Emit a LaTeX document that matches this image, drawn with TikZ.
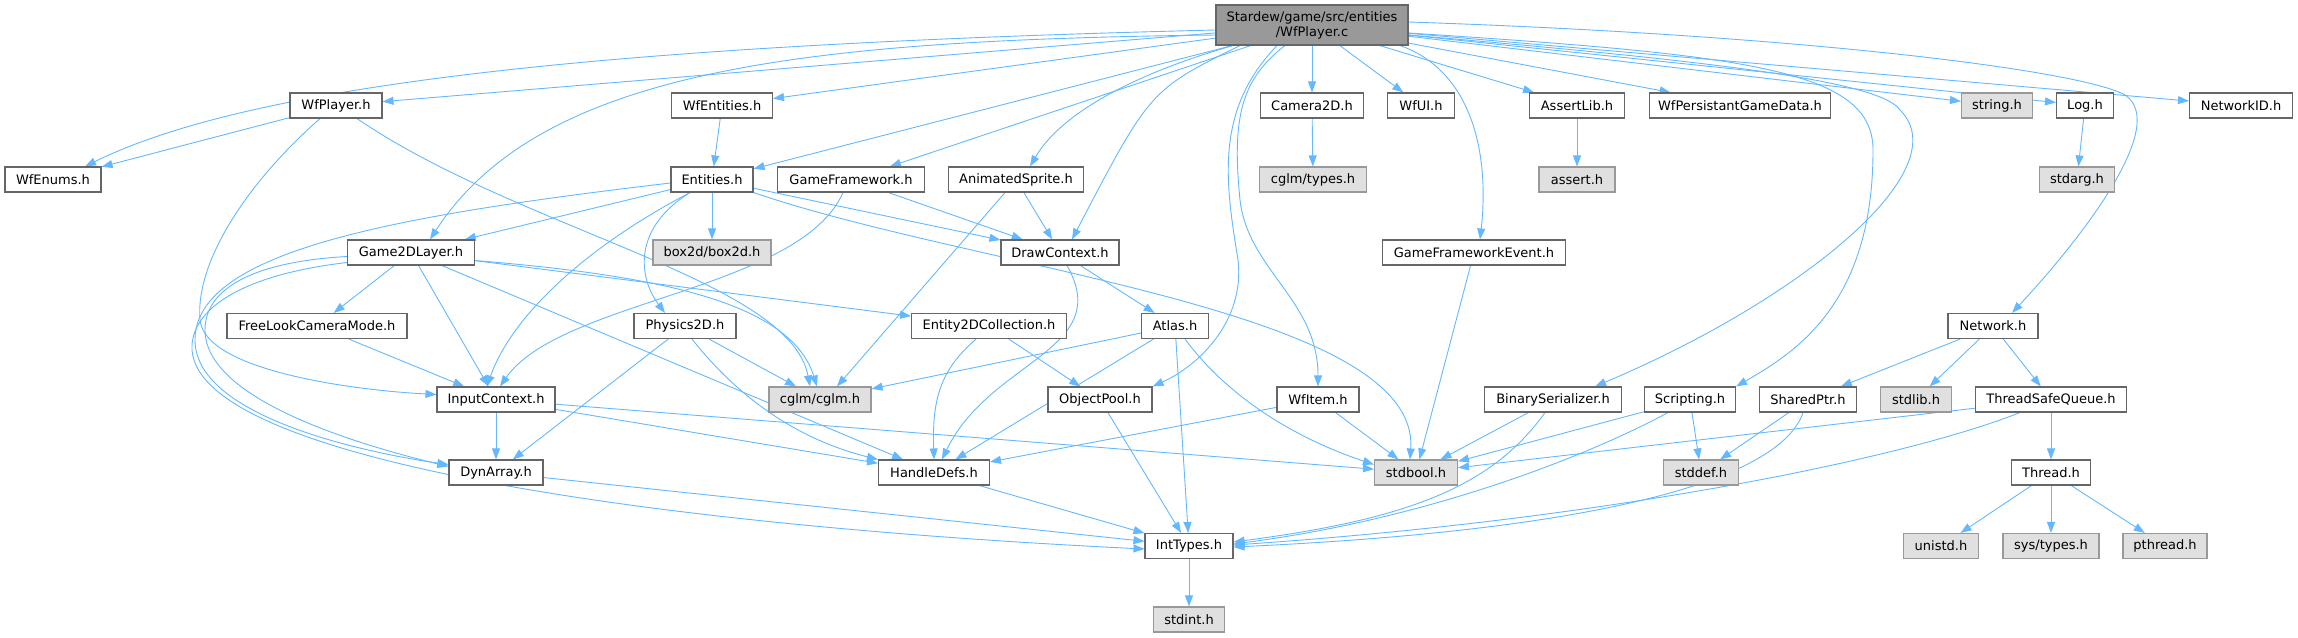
\documentclass[tikz,border=0pt]{standalone}
\usepackage{fontspec}
\setmainfont{DejaVu Sans}
\usepackage{tikz}
\usetikzlibrary{arrows.meta}

\definecolor{edgeblue}{HTML}{63B8FF}
\definecolor{boxline}{HTML}{666666}
\definecolor{sysline}{HTML}{999999}
\definecolor{sysfill}{HTML}{E0E0E0}
\definecolor{rootfill}{HTML}{999999}

\pgfdeclarelayer{edges}
\pgfsetlayers{edges,main}

\begin{document}
\begin{tikzpicture}[x=1pt,y=-1pt,
        hdr/.style={draw=boxline, fill=white, line width=1.1pt, minimum height=25pt, inner sep=0pt, font=\fontsize{13pt}{15pt}\selectfont},
        syshdr/.style={hdr, draw=sysline, fill=sysfill},
        rootfile/.style={hdr, draw=boxline, fill=rootfill, minimum height=40pt, align=center},
        dep/.style={draw=edgeblue, line width=0.9pt, -{Triangle[length=11pt,width=8pt]}}]
        \useasboundingbox (0,0) rectangle (2298,637);

        \node[rootfile, minimum width=192pt] (root) at (1312,25) {Stardew/game/src/entities\\/WfPlayer.c};

        \node[hdr, minimum width=92pt] (wfplayer) at (336,105.5) {WfPlayer.h};
        \node[hdr, minimum width=101pt] (wfentities) at (722,105.5) {WfEntities.h};
        \node[hdr, minimum width=103pt] (camera) at (1312,105.5) {Camera2D.h};
        \node[hdr, minimum width=67pt] (wfui) at (1421,105.5) {WfUI.h};
        \node[hdr, minimum width=95pt] (assertlib) at (1577,105.5) {AssertLib.h};
        \node[hdr, minimum width=181pt] (persist) at (1740,105.5) {WfPersistantGameData.h};
        \node[syshdr, minimum width=71pt] (stringh) at (1997,105.5) {string.h};
        \node[hdr, minimum width=57pt] (logh) at (2085,105.5) {Log.h};
        \node[hdr, minimum width=103pt] (networkid) at (2241,105.5) {NetworkID.h};

        \node[hdr, minimum width=96pt] (wfenums) at (53,179.5) {WfEnums.h};
        \node[hdr, minimum width=82pt] (entities) at (712,179.5) {Entities.h};
        \node[hdr, minimum width=147pt] (gameframework) at (851,179.5) {GameFramework.h};
        \node[hdr, minimum width=135pt] (animsprite) at (1016,179.5) {AnimatedSprite.h};
        \node[syshdr, minimum width=107pt] (cglmtypes) at (1313,179.5) {cglm/types.h};
        \node[syshdr, minimum width=76pt] (asserth) at (1577,179.5) {assert.h};
        \node[syshdr, minimum width=75pt] (stdarg) at (2077,179.5) {stdarg.h};

        \node[hdr, minimum width=127pt] (game2d) at (411,252.5) {Game2DLayer.h};
        \node[syshdr, minimum width=118pt] (box2d) at (712,252.5) {box2d/box2d.h};
        \node[hdr, minimum width=118pt] (drawctx) at (1060,252.5) {DrawContext.h};
        \node[hdr, minimum width=183pt] (gfevent) at (1474,252.5) {GameFrameworkEvent.h};

        \node[hdr, minimum width=180pt] (freelook) at (317,326) {FreeLookCameraMode.h};
        \node[hdr, minimum width=102pt] (physics) at (685,326) {Physics2D.h};
        \node[hdr, minimum width=155pt] (ent2dcoll) at (989,326) {Entity2DCollection.h};
        \node[hdr, minimum width=67pt] (atlas) at (1175,326) {Atlas.h};
        \node[hdr, minimum width=90pt] (network) at (1993,326) {Network.h};

        \node[hdr, minimum width=118pt] (inputctx) at (496,399.5) {InputContext.h};
        \node[syshdr, minimum width=102pt] (cglm) at (820,399.5) {cglm/cglm.h};
        \node[hdr, minimum width=104pt] (objpool) at (1100,399.5) {ObjectPool.h};
        \node[hdr, minimum width=82pt] (wfitem) at (1318,399.5) {WfItem.h};
        \node[hdr, minimum width=137pt] (binser) at (1553,399.5) {BinarySerializer.h};
        \node[hdr, minimum width=91pt] (scripting) at (1690,399.5) {Scripting.h};
        \node[hdr, minimum width=97pt] (sharedptr) at (1808,399.5) {SharedPtr.h};
        \node[syshdr, minimum width=71pt] (stdlib) at (1916,399.5) {stdlib.h};
        \node[hdr, minimum width=151pt] (tsqueue) at (2051,399.5) {ThreadSafeQueue.h};

        \node[hdr, minimum width=94pt] (dynarray) at (496,472.5) {DynArray.h};
        \node[hdr, minimum width=111pt] (handledefs) at (934,472.5) {HandleDefs.h};
        \node[syshdr, minimum width=83pt] (stdbool) at (1416,472.5) {stdbool.h};
        \node[syshdr, minimum width=75pt] (stddef) at (1701,472.5) {stddef.h};
        \node[hdr, minimum width=79pt] (thread) at (2051,472.5) {Thread.h};

        \node[hdr, minimum width=88pt] (inttypes) at (1189,546) {IntTypes.h};
        \node[syshdr, minimum width=75pt] (unistd) at (1941,546) {unistd.h};
        \node[syshdr, minimum width=96pt] (systypes) at (2051,546) {sys/types.h};
        \node[syshdr, minimum width=84pt] (pthread) at (2165,546) {pthread.h};

        \node[syshdr, minimum width=71pt] (stdint) at (1189,619.5) {stdint.h};

        \begin{pgfonlayer}{edges}
        % WfPlayer.c
        \draw[dep] (root) -- (wfplayer);
        \draw[dep] ([yshift=-5pt]root.west) .. controls (600,45) and (250,85) .. ([xshift=32pt]wfenums.north);
        \draw[dep] (root) -- (wfentities);
        \draw[dep] (root) -- (entities);
        \draw[dep] ([yshift=-10pt]root.west) .. controls (800,40) and (540,70) .. ([xshift=19pt]game2d.north);
        \draw[dep] (root) -- (gameframework);
        \draw[dep] ([xshift=-79pt]root.south) .. controls (1130,75) and (1060,115) .. ([xshift=14pt]animsprite.north);
        \draw[dep] ([xshift=-72pt]root.south) .. controls (1150,90) .. ([xshift=12pt]drawctx.north);
        \draw[dep] (root) -- (camera);
        \draw[dep] (root) -- (wfui);
        \draw[dep] ([xshift=-35pt]root.south) .. controls (1215,110) and (1225,180) .. (1238,260) .. controls (1245,320) and (1200,365) .. (objpool.north east);
        \draw[dep] ([xshift=-27pt]root.south) .. controls (1240,80) and (1232,120) .. (1240,200) .. controls (1248,270) and (1318,300) .. (wfitem.north);
        \draw[dep] ([xshift=88pt]root.south) .. controls (1470,70) and (1490,150) .. ([xshift=6pt]gfevent.north);
        \draw[dep] (root) -- (assertlib);
        \draw[dep] (root) -- (persist);
        \draw[dep] ([yshift=-10pt]root.east) .. controls (1700,60) and (1880,80) .. (1900,110) .. controls (1960,170) and (1800,300) .. ([xshift=42pt]binser.north);
        \draw[dep] ([yshift=-8pt]root.east) .. controls (1750,55) and (1873,70) .. (1873,150) .. controls (1873,300) and (1800,350) .. (scripting.north east);
        \draw[dep] (root) -- (stringh);
        \draw[dep] (root) -- (logh);
        \draw[dep] (root) -- (networkid);
        \draw[dep] ([yshift=3pt]root.east) .. controls (1800,35) and (2080,70) .. (2125,95) .. controls (2170,125) and (2080,240) .. ([xshift=19pt]network.north);

        \draw[dep] (wfplayer) -- (wfenums);
        \draw[dep] ([xshift=-16pt]wfplayer.south) .. controls (250,180) and (195,260) .. (200,320) .. controls (205,370) and (350,390) .. ([yshift=5pt]inputctx.west);
        \draw[dep] ([xshift=21pt]wfplayer.south) .. controls (520,230) and (790,280) .. ([xshift=-10pt]cglm.north);

        \draw[dep] (wfentities) -- (entities);

        \draw[dep] (entities) -- (game2d);
        \draw[dep] (entities) -- (box2d);
        \draw[dep] (entities) -- (drawctx);
        \draw[dep] ([xshift=-22pt]entities.south) .. controls (630,230) and (640,280) .. ([xshift=-20pt]physics.north);
        \draw[dep] ([xshift=-22pt]entities.south) .. controls (580,250) and (510,320) .. ([xshift=-9pt]inputctx.north);
        \draw[dep] (entities.south east) .. controls (980,270) and (1420,310) .. ([xshift=-6pt]stdbool.north);
        \draw[dep] ([yshift=-3.5pt]entities.west) .. controls (400,215) and (195,250) .. (195,340) .. controls (195,420) and (380,455) .. ([yshift=8pt]dynarray.west);

        \draw[dep] (game2d) -- (freelook);
        \draw[dep] (game2d) -- (inputctx);
        \draw[dep] (game2d) -- (ent2dcoll);
        \draw[dep] (game2d) -- (handledefs);
        \draw[dep] ([yshift=-8pt]game2d.east) .. controls (650,275) and (790,300) .. ([xshift=-3pt]cglm.north);
        \draw[dep] ([yshift=-4pt]game2d.west) .. controls (250,262) and (205,290) .. (205,330) .. controls (205,400) and (360,445) .. ([yshift=6pt]dynarray.west);
        \draw[dep] ([yshift=-10pt]game2d.west) .. controls (240,275) and (190,310) .. (192,350) .. controls (200,460) and (650,525) .. ([yshift=-3pt]inttypes.west);

        \draw[dep] (gameframework) -- (drawctx);
        \draw[dep] ([xshift=-8pt]gameframework.south) .. controls (800,290) and (560,300) .. ([xshift=4pt]inputctx.north);

        \draw[dep] (animsprite) -- (drawctx);
        \draw[dep] ([xshift=-11pt]animsprite.south) -- ([xshift=17pt]cglm.north);

        \draw[dep] (drawctx) -- (atlas);
        \draw[dep] ([xshift=7pt]drawctx.south) .. controls (1115,350) and (990,360) .. ([xshift=8pt]handledefs.north);

        \draw[dep] (freelook) -- (inputctx);

        \draw[dep] (physics) -- (dynarray);
        \draw[dep] (physics) -- (cglm);
        \draw[dep] ([xshift=7pt]physics.south) .. controls (740,400) and (800,440) .. (handledefs.north west);

        \draw[dep] ([xshift=-13pt]ent2dcoll.south) .. controls (940,370) and (932,400) .. (handledefs.north);
        \draw[dep] (ent2dcoll) -- (objpool);

        \draw[dep] (atlas) -- (cglm);
        \draw[dep] (atlas) -- (handledefs);
        \draw[dep] (atlas) -- (inttypes);
        \draw[dep] ([xshift=10pt]atlas.south) .. controls (1230,400) and (1300,440) .. ([yshift=8pt]stdbool.west);

        \draw[dep] (inputctx) -- (dynarray);
        \draw[dep] (inputctx) -- (handledefs);
        \draw[dep] (inputctx) -- (stdbool);

        \draw[dep] (objpool) -- (inttypes);
        \draw[dep] (wfitem) -- (handledefs);
        \draw[dep] (wfitem) -- (stdbool);
        \draw[dep] (gfevent) -- (stdbool);

        \draw[dep] (binser) -- (stdbool);
        \draw[dep] ([xshift=-8pt]binser.south) .. controls (1490,490) and (1400,520) .. ([yshift=4pt]inttypes.east);
        \draw[dep] (scripting) -- (stdbool);
        \draw[dep] (scripting) -- (stddef);
        \draw[dep] ([xshift=-22pt]scripting.south) .. controls (1580,460) and (1420,520) .. ([yshift=2pt]inttypes.east);
        \draw[dep] (sharedptr) -- (stddef);
        \draw[dep] ([xshift=-5pt]sharedptr.south) .. controls (1780,480) and (1600,530) .. ([yshift=-1pt]inttypes.east);

        \draw[dep] (network) -- (sharedptr);
        \draw[dep] (network) -- (stdlib);
        \draw[dep] (network) -- (tsqueue);
        \draw[dep] (tsqueue) -- (stdbool);
        \draw[dep] ([xshift=-31pt]tsqueue.south) .. controls (1900,460) and (1600,520) .. ([yshift=1pt]inttypes.east);
        \draw[dep] (tsqueue) -- (thread);
        \draw[dep] (thread) -- (unistd);
        \draw[dep] (thread) -- (systypes);
        \draw[dep] (thread) -- (pthread);

        \draw[dep] (dynarray) -- (inttypes);
        \draw[dep] (handledefs) -- (inttypes);
        \draw[dep] (inttypes) -- (stdint);

        \draw[dep] (camera) -- (cglmtypes);
        \draw[dep] (assertlib) -- (asserth);
        \draw[dep] (logh) -- (stdarg);
        \end{pgfonlayer}
\end{tikzpicture}
\end{document}
